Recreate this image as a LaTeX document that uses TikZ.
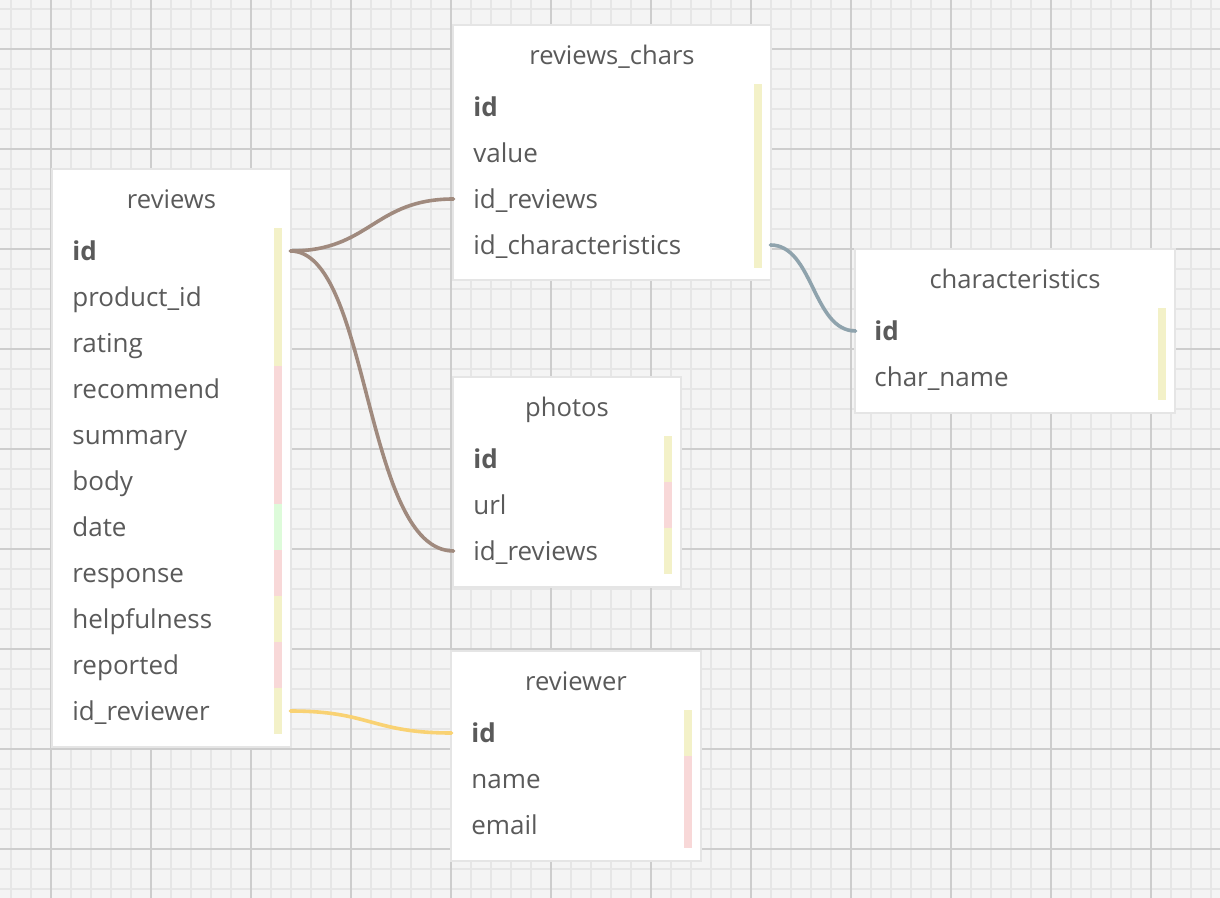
\documentclass[tikz,border=0pt]{standalone}
\usepackage{fontspec}
\setmainfont{Open Sans}
\definecolor{bgc}{HTML}{F4F4F4}
\definecolor{gridminor}{HTML}{E6E6E6}
\definecolor{gridmajor}{HTML}{CDCDCD}
\definecolor{txt}{HTML}{5A5A5A}
\definecolor{barYellow}{HTML}{F3F1C8}
\definecolor{barPink}{HTML}{F8D8D8}
\definecolor{barGreen}{HTML}{DDFBDA}
\definecolor{brownline}{HTML}{A08A7E}
\definecolor{blueline}{HTML}{8FA3AD}
\definecolor{yellowline}{HTML}{F9D273}
\tikzset{
  minorline/.style={draw=gridminor, line width=1pt},
  majorline/.style={draw=gridmajor, line width=1pt},
  tablebox/.style={fill=white, draw=none, inner sep=0pt,
    preaction={draw=black!10, line width=2pt}},
  header/.style={anchor=base, inner sep=0pt, text=txt, font=\fontsize{12.8}{15}\selectfont},
  field/.style={anchor=base west, inner sep=0pt, text height=10pt, text depth=0.5pt,
    text=txt, font=\fontsize{13}{15}\selectfont},
  keyfield/.style={field, font=\fontsize{13}{15}\selectfont\bfseries},
  conn/.style={line width=1.8pt, line cap=round},
  yb/.style={fill=barYellow},
  pb/.style={fill=barPink},
  gb/.style={fill=barGreen},
}
\begin{document}
\begin{tikzpicture}[x=0.5pt,y=-0.5pt]
\useasboundingbox (0,0) rectangle (1220,898);
\fill[bgc] (0,0) rectangle (1220,898);
% grid
\foreach \x in {11,31,...,1220} \draw[minorline] (\x,0) -- (\x,898);
\foreach \y in {9,29,...,898} \draw[minorline] (0,\y) -- (1220,\y);
\foreach \x in {51,151,...,1220} \draw[majorline] (\x,0) -- (\x,898);
\foreach \y in {49,149,...,898} \draw[majorline] (0,\y) -- (1220,\y);

% ---------- reviews ----------
\node[tablebox, minimum width=118.5pt, minimum height=288pt] (reviews) at (171.5,458) {};
\node[header] (reviews-h) at (171.5,209) {reviews};
\path[yb] (274,228) rectangle (282,366);
\path[pb] (274,366) rectangle (282,504);
\path[gb] (274,504) rectangle (282,550);
\path[pb] (274,550) rectangle (282,596);
\path[yb] (274,596) rectangle (282,642);
\path[pb] (274,642) rectangle (282,688);
\path[yb] (274,688) rectangle (282,734);
\node[keyfield] (rv-id) at (72,260.5) {id};
\node[field] (rv-pid) at (72,306.5) {product\_id};
\node[field] (rv-rating) at (72,352.5) {rating};
\node[field] (rv-rec) at (72,398.5) {recommend};
\node[field] (rv-sum) at (72,444.5) {summary};
\node[field] (rv-body) at (72,490.5) {body};
\node[field] (rv-date) at (72,536.5) {date};
\node[field] (rv-resp) at (72,582.5) {response};
\node[field] (rv-help) at (72,628.5) {helpfulness};
\node[field] (rv-rep) at (72,674.5) {reported};
\node[field] (rv-idr) at (72,720.5) {id\_reviewer};

% ---------- reviews_chars ----------
\node[tablebox, minimum width=158pt, minimum height=126.5pt] (rchars) at (612,152.5) {};
\node[header] (rchars-h) at (612,64.5) {reviews\_chars};
\path[yb] (754,84) rectangle (762,268);
\node[keyfield] (rc-id) at (473,116.5) {id};
\node[field] (rc-val) at (473,162.5) {value};
\node[field] (rc-idrev) at (473,208.5) {id\_reviews};
\node[field] (rc-idch) at (473,254.5) {id\_characteristics};

% ---------- characteristics ----------
\node[tablebox, minimum width=159pt, minimum height=81pt] (chars) at (1015,331) {};
\node[header] (chars-h) at (1015,288.5) {characteristics};
\path[yb] (1158,308) rectangle (1166,400);
\node[keyfield] (ch-id) at (874,340.5) {id};
\node[field] (ch-name) at (874,386.5) {char\_name};

% ---------- photos ----------
\node[tablebox, minimum width=113pt, minimum height=104pt] (photos) at (567,482) {};
\node[header] (photos-h) at (567,416.5) {photos};
\path[yb] (664,436) rectangle (672,482);
\path[pb] (664,482) rectangle (672,528);
\path[yb] (664,528) rectangle (672,574);
\node[keyfield] (ph-id) at (473,468.5) {id};
\node[field] (ph-url) at (473,514.5) {url};
\node[field] (ph-idrev) at (473,560.5) {id\_reviews};

% ---------- reviewer ----------
\node[tablebox, minimum width=124pt, minimum height=104pt] (reviewer) at (576,756) {};
\node[header] (reviewer-h) at (576,690.5) {reviewer};
\path[yb] (684,710) rectangle (692,756);
\path[pb] (684,756) rectangle (692,848);
\node[keyfield] (rw-id) at (471,742.5) {id};
\node[field] (rw-name) at (471,788.5) {name};
\node[field] (rw-email) at (471,834.5) {email};

% ---------- connectors ----------
\draw[conn, brownline] (reviews.east |- rv-id) .. controls +(80,0) and +(-80,0) .. (rchars.west |- rc-idrev);
\draw[conn, brownline] (reviews.east |- rv-id) .. controls +(80,0) and +(-90,0) .. (photos.west |- ph-idrev);
\draw[conn, blueline] (rchars.east |- rc-idch) .. controls +(43,0) and +(-43,0) .. (chars.west |- ch-id);
\draw[conn, yellowline] (reviews.east |- rv-idr) .. controls +(80,0) and +(-80,0) .. (reviewer.west |- rw-id);
\end{tikzpicture}
\end{document}
